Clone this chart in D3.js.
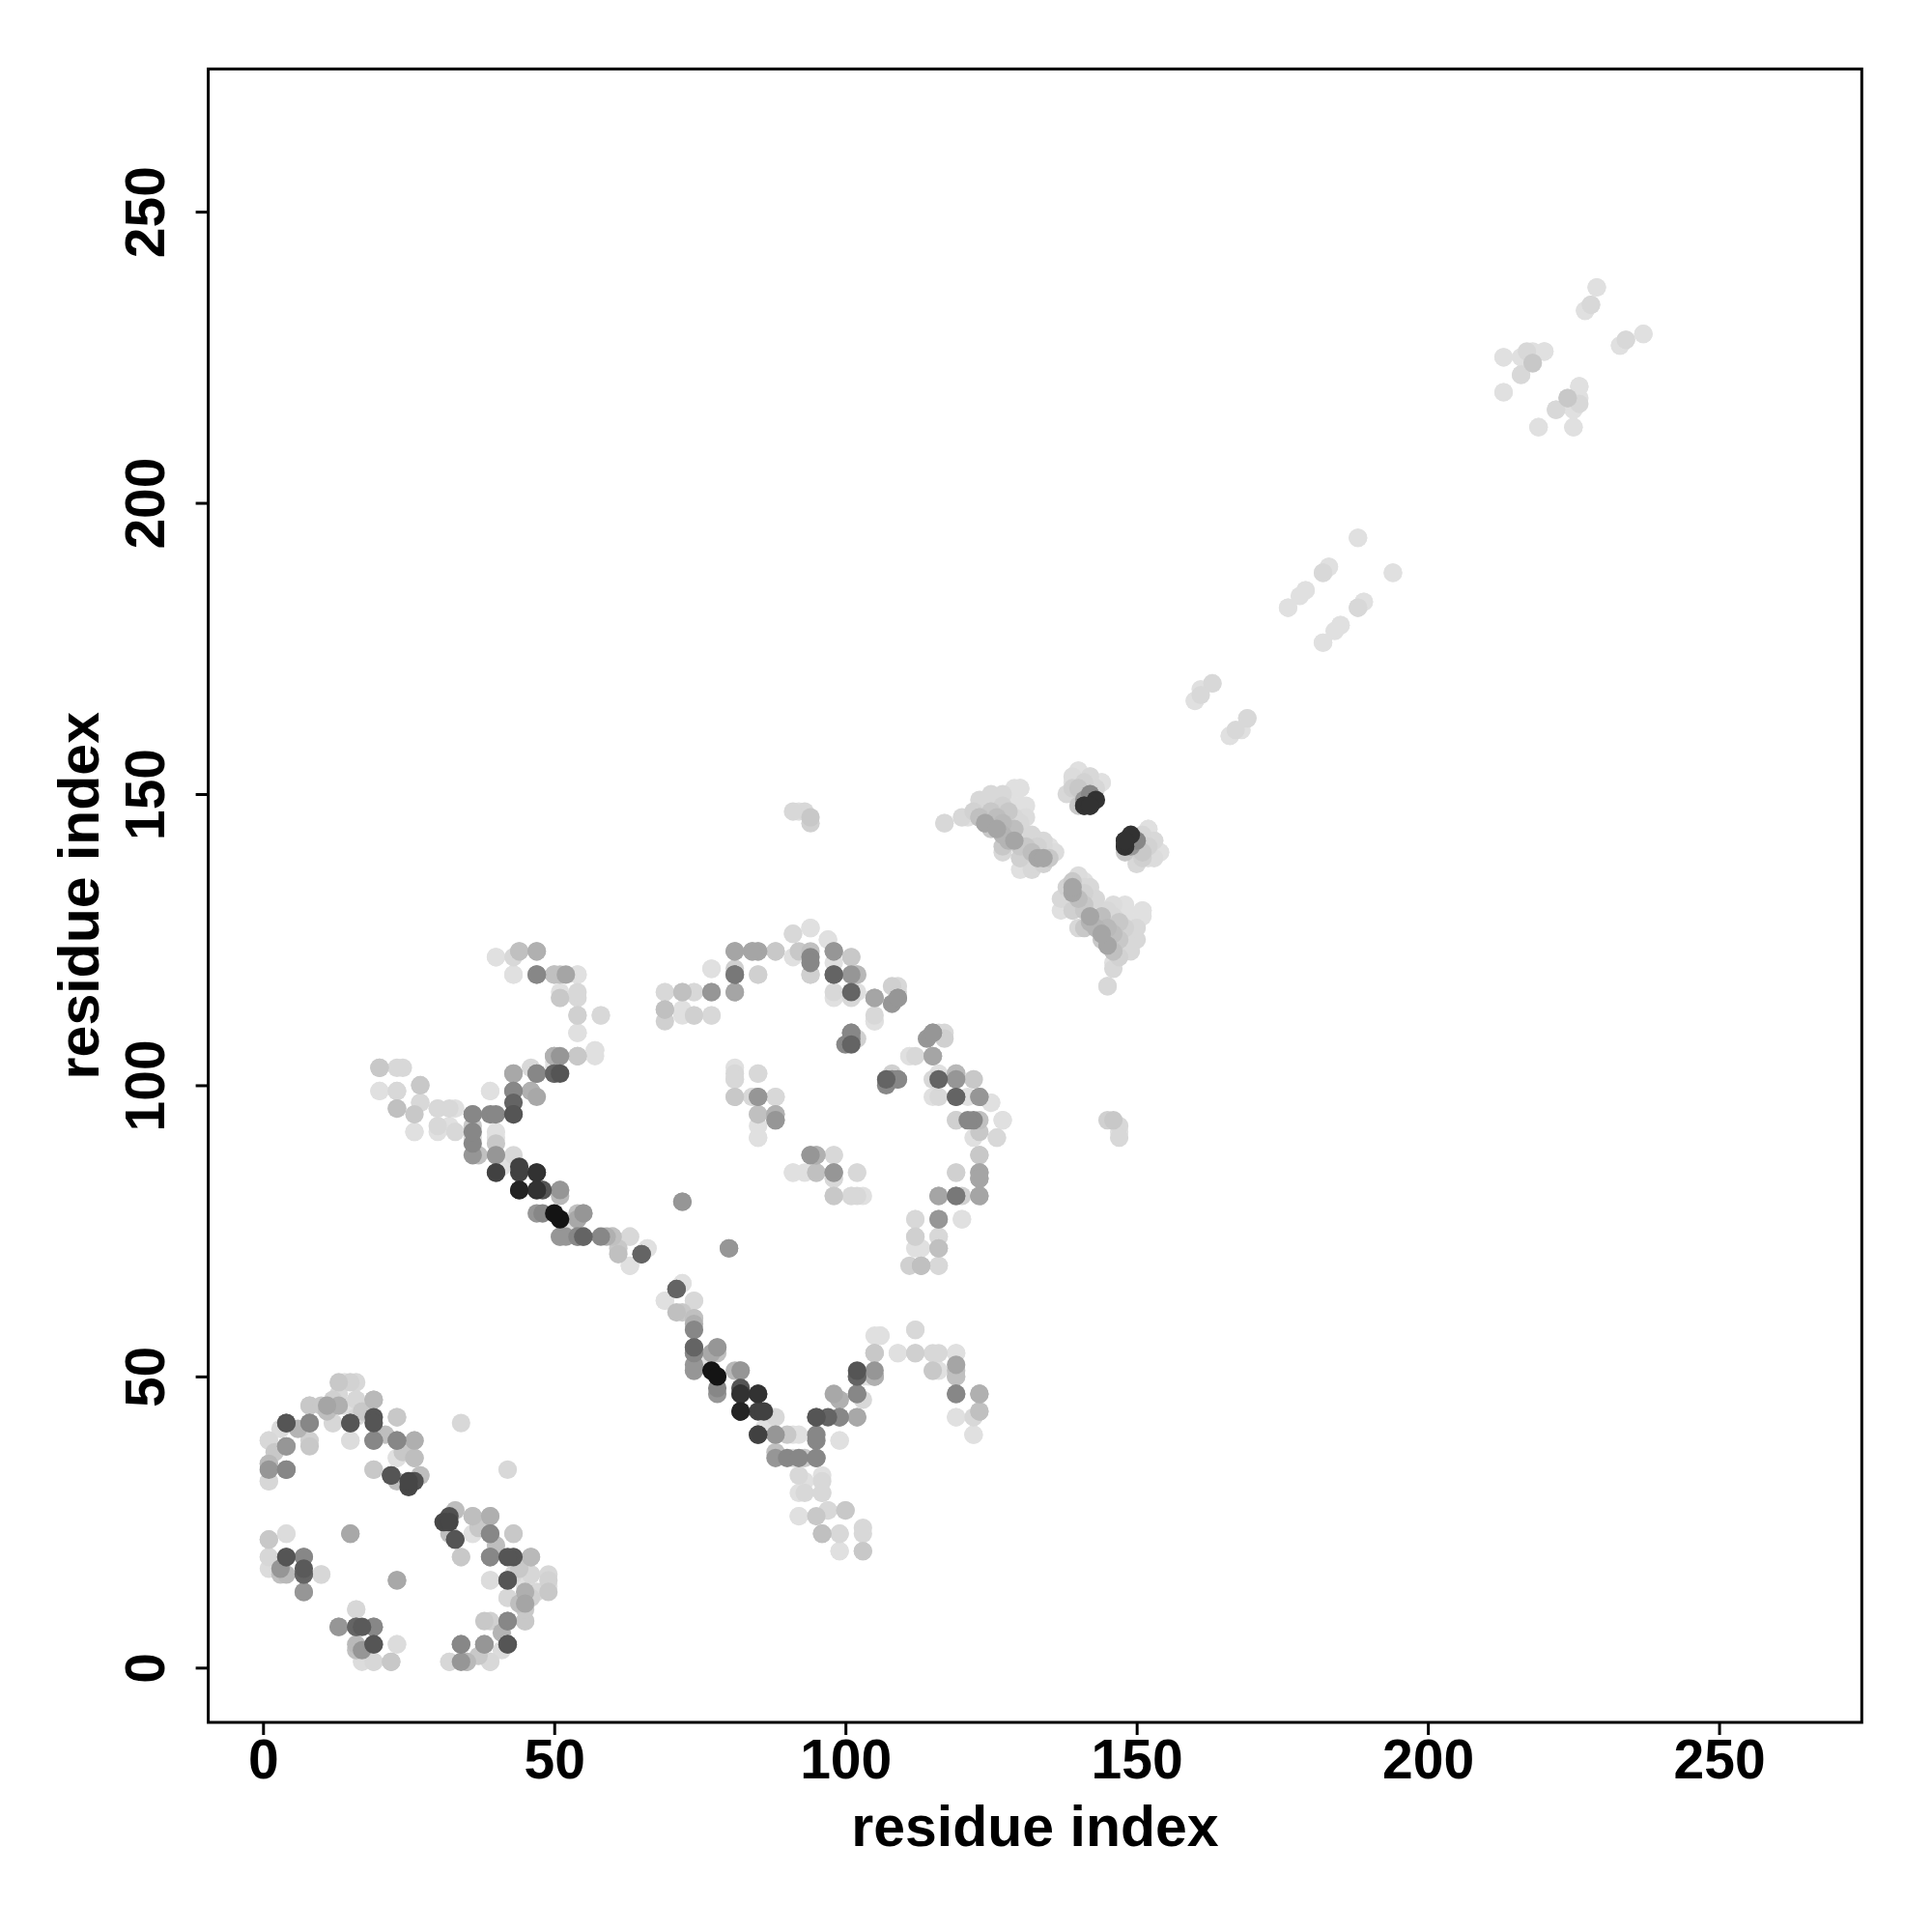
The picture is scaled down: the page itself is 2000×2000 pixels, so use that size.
<!DOCTYPE html>
<html>
<head>
<meta charset="utf-8">
<script src="https://cdn.jsdelivr.net/npm/d3@7/dist/d3.min.js"></script>
<style>
  html, body { margin: 0; padding: 0; background: #fff; }
  text { font-family: "Liberation Sans", Arial, Helvetica, sans-serif; font-weight: bold; }
</style>
</head>
<body>
<svg id="chart" width="2000" height="2000"></svg>
<script>
// Axis ticks
const xTicks = [0, 50, 100, 150, 200, 250];
const yTicks = [0, 50, 100, 150, 200, 250];
const xTitle = "residue index";
const yTitle = "residue index";

// Contacts: [residue i, residue j, gray level 0-255]; the map is symmetric, so each is drawn at (i,j) and (j,i)
const contacts = [
  // cluster near (0-50, 0-50)
  [31,25,70],[32,26,80],[33,27,190],[36,26,190],[39,26,175],[32,23,190],[33,22,85],[34,19,215],[36,23,225],[39,23,135],
  [39,19,135],[43,19,85],[43,23,200],[46,19,185],[39,15,220],[42,15,90],[43,16,215],[46,16,215],[49,15,210],[49,13,200],
  [45,13,175],[42,12,215],[45,11,165],[38,8,200],[42,8,135],[45,8,200],[42,4,85],[38,4,150],[34,4,135],[39,1,220],
  [35,1,185],[32,1,215],[34,1,150],
  [16,10,215],[13,7,150],[16,7,120],[17,7,90],[19,7,135],[16,4,185],[19,4,85],[17,3,150],[23,4,220],[19,1,215],
  [22,1,200],[17,1,220],[23,15,170],
  [14,49,224],[16,49,216],[12,46,208],[8,45,200],[4,42,85],[8,42,135],[12,42,216],[15,42,85],[16,46,216],[19,46,185],
  [19,43,200],[19,42,85],[23,43,200],[1,39,216],[4,38,150],[8,39,208],[15,39,224],[19,39,135],[23,39,135],[26,39,185],
  [23,36,224],[26,36,192],[1,35,200],[4,34,135],[1,32,224],[19,34,200],[22,33,85],[25,32,70],[27,33,208],[34,42,216],
  [1,22,200],[4,23,224],[4,19,100],[7,19,150],[1,19,224],[3,16,192],[7,16,100],[10,16,224],[7,13,168],[15,23,168],
  [13,47,216],[10,45,200],[11,44,190],[14,45,224],[6,41,180],[2,37,200],[3,41,220],[17,44,200],[21,40,190],[24,37,200],
  // anti-diagonal band and neighbours
  [74,54,150],[78,54,192],[74,51,176],[77,51,20],[78,50,220],[82,51,185],[78,47,150],[82,48,85],[82,47,50],[85,47,50],
  [82,44,35],[85,44,65],[88,43,216],[85,40,65],[88,40,150],[90,40,200],[92,40,224],[88,37,192],[90,36,135],[92,36,135],
  [93,36,200],[95,36,135],[95,39,135],[95,43,85],[99,43,135],[102,43,168],[99,39,224],[98,47,168],[99,46,176],[102,47,135],
  [103,46,216],[102,50,100],[103,50,224],[105,50,176],[105,54,208],[93,32,224],[96,32,216],[93,30,216],[96,30,216],[92,26,224],
  [95,26,200],[97,27,216],[100,27,200],[96,23,192],[99,23,216],[103,24,216],[103,20,200],[99,20,224],
  [105,54,200],[105,50,176],[109,54,224],[112,54,208],[115,54,216],[119,54,224],[115,51,200],[116,51,224],[119,51,192],[119,50,200],
  [119,47,135],[123,47,176],[119,43,224],[123,44,200],[122,43,216],[122,40,224],
  [54,109,224],[54,105,200],[57,106,224],[51,105,150],[51,102,85],[81,102,216],[81,101,216],[85,102,216],[81,98,200],[84,98,216],
  [85,98,150],[88,98,216],[85,95,200],[88,95,176],[88,94,150],[85,93,224],[85,91,224],[94,88,168],[95,88,176],[98,88,216],
  [91,85,224],[95,85,192],[98,85,150],[102,85,224],[98,84,216],[98,81,208],[101,81,224],[103,81,224],[72,80,150],[80,72,150],
  [51,82,150],[51,81,184],[55,78,150],[52,76,224],[55,74,120],[52,74,150],[59,74,176],[60,74,200],[63,74,224],
  [61,71,192],[66,72,224],[65,71,100],[63,69,224],[72,66,224],[71,65,100],[69,63,224],[74,63,216],[72,61,200],[74,60,192],
  [74,58,135],[74,55,100],[78,55,168],[105,57,224],[101,108,135],[102,108,208],[107,101,100],
  [114,108,150],[117,108,208],[111,105,224],[115,105,192],[108,101,192],[109,101,150],[107,100,135],[115,101,216],[119,102,200],[119,101,150],
  [122,101,216],[115,98,224],[119,98,100],[121,98,224],[123,98,165],[125,97,224],[119,94,208],[122,94,135],[123,92,200],[127,94,224],
  [126,91,216],[123,88,200],[119,85,208],[123,85,165],[123,84,165],[116,81,165],[119,81,120],[120,81,208],[123,81,165],[112,77,216],
  [116,77,150],[120,77,224],[112,74,208],[116,74,216],[113,72,224],[116,72,200],[111,69,208],[113,69,192],[116,69,216],[146,94,200],
  [147,93,216],[147,91,216],[106,57,224],[112,58,216],
  // region around (115-155, 115-155)
  [117,145,216],[120,146,216],[123,146,192],[124,148,216],[125,150,216],[129,151,224],[130,151,224],[130,148,224],[124,145,165],[126,144,180],
  [128,142,180],[129,146,216],[131,143,224],[127,141,200],[130,139,208],[133,139,165],[134,141,216],[135,141,224],[132,137,216],[130,137,224],
  [122,147,210],[123,149,216],[125,147,200],[126,146,190],[127,145,185],[127,148,210],[128,147,200],[129,144,190],[131,141,200],[132,140,190],
  [133,141,210],[126,149,220],[128,150,224],[131,146,220],[132,143,215],[133,142,220],[134,138,210],[135,139,200],[136,140,220],[125,144,200],
  [139,152,224],[140,154,224],[142,153,224],[144,152,224],[140,151,200],[138,150,216],[141,149,150],[142,148,65],[141,148,50],[143,149,50],
  [139,153,220],[141,152,210],[142,150,190],[143,151,215],
  [148,140,200],[151,139,208],[154,140,224],[153,142,216],[152,144,224],[150,142,135],[148,141,65],[148,142,50],
  [141,135,224],[142,134,216],[139,134,165],[138,132,216],[139,130,216],[141,130,200],[142,129,165],[143,127,180],[144,126,165],[145,124,180],
  [146,123,200],[146,121,224],[145,117,224],[146,129,224],[148,131,224],[151,130,224],[150,127,216],[147,125,208],[145,130,216],[140,127,216],
  [109,117,216],[105,115,165],[109,115,150],[105,111,224],[116,109,216],[115,109,150],
  // upper diagonal contacts
  [229,237,224],[228,234,216],[227,233,224],[234,228,216],[237,229,224],[233,227,224],[213,225,224],[217,226,216],[220,226,224],[218,224,208],
  [216,222,216],[213,219,224],[226,220,224],[224,218,200],[222,216,216],[226,218,224],[225,216,224],[219,213,224],[225,213,224],
  [188,194,224],[183,189,224],[182,188,216],[179,185,224],[178,184,224],[176,182,224],[194,188,224],[189,183,224],[188,182,216],[185,179,224],
  [182,176,224],[163,169,216],[161,168,224],[160,166,224],[169,163,224],[167,161,216],[166,160,224],
  // upper-left of the band
  [20,103,200],[23,103,216],[20,99,224],[23,99,216],[23,96,192],[27,100,200],[27,97,216],[26,92,224],[30,96,224],[33,96,224],
  [30,92,224],[33,92,216],[36,95,150],[39,99,224],[40,95,135],[43,95,85],[43,102,176],[43,99,135],[43,97,100],[47,102,135],
  [46,99,176],[50,105,176],[50,102,120],[50,104,224],[36,91,216],[36,88,150],[40,91,224],[40,88,192],[40,85,85],
  [41,86,224],[44,86,65],[47,85,65],[44,82,50],[47,82,50],[48,82,120],[48,78,135],[50,78,20],[51,77,224],[51,74,150],
  [54,74,135],[54,77,168],
  [40,122,224],[44,123,192],[47,123,176],[43,119,224],[47,119,135],[50,119,192],[51,115,224],[54,112,208],
  [92,147,224],[94,145,208],[52,119,165],[54,119,224],[54,116,216],[58,112,224],[69,116,224],[72,116,192],[74,116,224],
  [77,116,165],[69,113,192],[72,112,224],[74,112,216],[77,112,224],[77,120,224],[81,123,165],[81,119,120],[81,116,165],[84,123,165],
  [85,123,176],[85,119,216],[88,123,200],[91,122,224],[91,126,224],[94,127,224],[94,123,192],[94,121,135],[97,125,224],[98,123,150],
  [98,119,120],[94,119,208],[98,116,216],[101,122,200],[102,119,184],[101,116,100],[102,116,224],[105,115,192],[105,112,216],[101,109,135]
];

const svg = d3.select("#chart");
const plotLeft = 215.6, plotRight = 1927.3, plotTop = 71.4, plotBottom = 1783;

const x = d3.scaleLinear().domain([-9.4, 274.5]).range([plotLeft, plotRight]);
const y = d3.scaleLinear().domain([-9.4, 274.5]).range([plotBottom, plotTop]);

// expand symmetric map
const pts = [];
contacts.forEach(([i, j, g]) => {
  pts.push({ px: i, py: j, g });
  pts.push({ px: j, py: i, g });
});
pts.sort((a, b) => b.g - a.g);

svg.append("g")
  .selectAll("circle")
  .data(pts)
  .join("circle")
  .attr("cx", d => x(d.px))
  .attr("cy", d => y(d.py))
  .attr("r", 9.6)
  .attr("fill", d => d3.rgb(d.g, d.g, d.g).toString());

// box
svg.append("rect")
  .attr("x", plotLeft).attr("y", plotTop)
  .attr("width", plotRight - plotLeft).attr("height", plotBottom - plotTop)
  .attr("fill", "none").attr("stroke", "#000").attr("stroke-width", 3);

// x axis
const xAxis = svg.append("g")
  .attr("transform", `translate(0,${plotBottom})`)
  .call(d3.axisBottom(x).tickValues(xTicks).tickSize(13).tickFormat(d3.format("d")));
xAxis.select(".domain").remove();
xAxis.selectAll(".tick line").attr("stroke", "#000").attr("stroke-width", 3);
xAxis.selectAll(".tick text")
  .attr("y", 58).attr("dy", 0)
  .attr("font-size", 57).attr("fill", "#000")
  .style("font-family", '"Liberation Sans", Arial, sans-serif').style("font-weight", "bold");

// y axis
const yAxis = svg.append("g")
  .attr("transform", `translate(${plotLeft},0)`)
  .call(d3.axisLeft(y).tickValues(yTicks).tickSize(13).tickFormat(d3.format("d")));
yAxis.select(".domain").remove();
yAxis.selectAll(".tick line").attr("stroke", "#000").attr("stroke-width", 3);
yAxis.selectAll(".tick text")
  .attr("x", 0).attr("dy", 0)
  .attr("text-anchor", "middle")
  .attr("transform", "translate(-46,0) rotate(-90)")
  .attr("font-size", 57).attr("fill", "#000")
  .style("font-family", '"Liberation Sans", Arial, sans-serif').style("font-weight", "bold");

// titles
svg.append("text")
  .attr("x", (plotLeft + plotRight) / 2).attr("y", 1911)
  .attr("text-anchor", "middle")
  .attr("font-size", 59).attr("fill", "#000")
  .text(xTitle);

svg.append("text")
  .attr("transform", `translate(102,${(plotTop + plotBottom) / 2}) rotate(-90)`)
  .attr("text-anchor", "middle")
  .attr("font-size", 59).attr("fill", "#000")
  .text(yTitle);
</script>
</body>
</html>
